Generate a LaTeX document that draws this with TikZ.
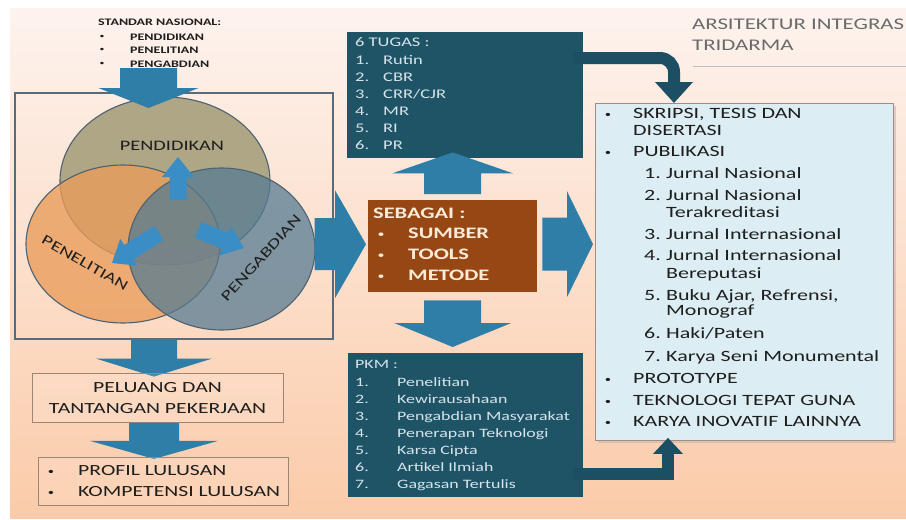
\documentclass[tikz,border=0pt]{standalone}
\usepackage{fontspec}
\setmainfont{Carlito}[FakeStretch=1.4]
\usetikzlibrary{calc,shapes.geometric}

\definecolor{bgtop}{HTML}{FDF3EE}
\definecolor{bgbot}{HTML}{FBCBA9}
\definecolor{arrblue}{HTML}{2E7EA8}
\definecolor{vennblue}{HTML}{3B8DC6}
\definecolor{tealbox}{HTML}{1F5467}
\definecolor{tealconn}{HTML}{1D4F64}
\definecolor{tealtext}{HTML}{D6E4EA}
\definecolor{brownbox}{HTML}{974713}
\definecolor{browntext}{HTML}{FCEBD9}
\definecolor{framec}{HTML}{5A6A78}
\definecolor{vtop}{HTML}{A8A17E}
\definecolor{vleft}{HTML}{EA9C5A}
\definecolor{vright}{HTML}{557B93}
\definecolor{vedge}{HTML}{4E6170}
\definecolor{lightbox}{HTML}{DCEEF3}
\definecolor{lightedge}{HTML}{A98A80}
\definecolor{inktext}{HTML}{1E1E1E}
\definecolor{titlegray}{HTML}{6B6B6B}
\definecolor{boxedge}{HTML}{9B8676}

\newcommand\fsz[1]{\fontsize{#1}{#1}\selectfont}

% block arrow: [colour]{start}{tip}{half shaft}{half head}{head length}
\newcommand\blockarrow[6][arrblue]{%
  \coordinate (ba-b) at ($(#3)!#6pt!(#2)$);
  \fill[#1] ($(#2)!#4pt!90:(#3)$) -- ($(ba-b)!#4pt!90:(#3)$)
    -- ($(ba-b)!#5pt!90:(#3)$) -- (#3)
    -- ($(ba-b)!#5pt!-90:(#3)$) -- ($(ba-b)!#4pt!-90:(#3)$)
    -- ($(#2)!#4pt!-90:(#3)$) -- cycle;}

\begin{document}
\begin{tikzpicture}[x=1pt,y=-1pt,
  txt/.style={inner sep=0pt, anchor=west, text height=.66em, text depth=0pt},
  rtxt/.style={txt, font=\fsz{15.7}, text=inktext},
  ttxt/.style={txt, font=\fsz{13.2}, text=tealtext},
  ptxt/.style={txt, font=\fsz{12.8}, text=tealtext},
  btxt/.style={txt, font=\bfseries\fsz{16}, text=browntext},
  stxt/.style={txt, font=\bfseries\fsz{10}, text=inktext},
  ltxt/.style={txt, font=\fsz{15.5}, text=inktext},
  dot/.style={inner sep=0pt, anchor=center, font=\fsz{#1}},
  vtxt/.style={inner sep=0pt, font=\fsz{14.5}, text=inktext},
  boxat/.style={inner sep=0pt, anchor=north west},
  outline/.style={boxat, draw=boxedge, line width=0.9pt, fill=white, fill opacity=0.12},
  vennc/.style={ellipse, draw=vedge, line width=1.1pt, inner sep=0pt},
  conn/.style={draw=tealconn, line width=12pt}
]
\useasboundingbox (0,0) rectangle (906,520);
\shade[top color=bgtop, bottom color=bgbot] (10,8) rectangle (906,518);

% title
\node[txt, font=\fsz{16.3}, text=titlegray] (title1) at (692,26) {ARSITEKTUR INTEGRAS};
\node[txt, font=\fsz{16.3}, text=titlegray] (title2) at (692,47) {TRIDARMA};
\draw[black!25, line width=1pt] (693,66) -- (906,66);

% national standards
\node[stxt] (std) at (98,22) {STANDAR NASIONAL:};
\foreach \t/\yy [count=\i] in {PENDIDIKAN/37, PENELITIAN/50, PENGABDIAN/64}{
  \node[dot=7, text=inktext] (stdb\i) at (102,\yy) {•};
  \node[stxt] (stdi\i) at (130,\yy) {\t};
}

% frame with the three circles
\node[boxat, draw=framec, line width=1.6pt, minimum width=318pt, minimum height=246pt] (frame) at (14,92) {};
\node[vennc, fill=vtop, fill opacity=.92, minimum width=210pt, minimum height=168pt] (vtopc) at (165,181) {};
\node[vennc, fill=vleft, fill opacity=.78, minimum width=194pt, minimum height=158pt] (vleftc) at (123,244) {};
\node[vennc, fill=vright, fill opacity=.74, minimum width=187pt, minimum height=162pt] (vrightc) at (221.5,249) {};
\node[vtxt] (lpend) at (172,146) {PENDIDIKAN};
\node[vtxt, rotate=-30] (lpene) at (85,263) {PENELITIAN};
\node[vtxt, rotate=48] (lpeng) at (261,258) {PENGABDIAN};

% arrows between the circles
\coordinate (vu-s) at (178,200); \coordinate (vu-t) at (178,157);
\coordinate (vl-s) at (159,233); \coordinate (vl-t) at (112,263);
\coordinate (vr-s) at (198,230); \coordinate (vr-t) at (244,248);
\blockarrow[vennblue]{vu-s}{vu-t}{8.5}{16}{20}
\blockarrow[vennblue]{vl-s}{vl-t}{8.5}{16}{20}
\blockarrow[vennblue]{vr-s}{vr-t}{8.5}{16}{20}

% standards into the frame
\coordinate (a0-s) at (148.5,68); \coordinate (a0-t) at (148.5,108);
\blockarrow{a0-s}{a0-t}{28.5}{50}{20}

% boxes in the middle column
\node[boxat, fill=tealbox, minimum width=236pt, minimum height=126pt] (tugas) at (347,32) {};
\node[boxat, fill=brownbox, minimum width=169pt, minimum height=92pt] (brown) at (368,200) {};
\node[boxat, fill=tealbox, minimum width=235pt, minimum height=144pt] (pkm) at (348,353) {};

% outcomes box
\fill[black!30, opacity=.5] (598,106) rectangle (896,443);
\node[boxat, fill=lightbox, draw=lightedge, line width=0.9pt, minimum width=298pt, minimum height=337pt] (rbox) at (595,103) {};

% block arrows around the brown box
\coordinate (a1-s) at ($(frame.east |- brown.west)+(-19,-2)$);
\coordinate (a1-t) at ($(brown.west)+(-2,-2)$);
\blockarrow{a1-s}{a1-t}{26}{54}{31}
\coordinate (a2-s) at ($(brown.east)+(5,-2)$);
\coordinate (a2-t) at ($(rbox.west |- brown.east)+(-2,-2)$);
\blockarrow{a2-s}{a2-t}{26.5}{53}{26}
\coordinate (a3-s) at ($(brown.north)+(0,-6)$);
\coordinate (a3-t) at ($(brown.north |- tugas.south)+(0,-6)$);
\blockarrow{a3-s}{a3-t}{28.5}{60.5}{21}
\coordinate (a4-s) at ($(brown.south)+(0,8)$);
\coordinate (a4-t) at ($(brown.south |- pkm.north)+(0,-6)$);
\blockarrow{a4-s}{a4-t}{28.5}{58.5}{24}

% connectors into the outcomes box
\draw[conn, rounded corners=14pt] ($(tugas.north east)+(-10,26)$) -| ($(rbox.north west)+(79,-20)$);
\fill[tealconn] ($(rbox.north west)+(60,-21)$) -- ++(38,0) -- ($(rbox.north west)+(79,0)$) -- cycle;
\draw[conn, line width=12pt] ($(pkm.south east)+(-10,-23)$) -| ($(rbox.south west)+(73,12)$);
\fill[tealconn] ($(rbox.south west)+(58,13)$) -- ++(30,0) -- ($(rbox.south west)+(73,-3)$) -- cycle;

% texts of the middle column
\node[ttxt] (tg0) at (355,43) {6 TUGAS :};
\foreach \t/\yy [count=\i] in {Rutin/61, CBR/78, {CRR/CJR}/95, MR/112, RI/129, PR/146}{
  \node[ttxt] (tgn\i) at (355,\yy) {\i.};
  \node[ttxt] (tgt\i) at (383,\yy) {\t};
}
\node[btxt] (sb0) at (373,215) {SEBAGAI :};
\foreach \t/\yy [count=\i] in {SUMBER/235, TOOLS/256, METODE/277}{
  \node[dot=10, text=browntext] (sbb\i) at (381,\yy) {•};
  \node[btxt] (sbt\i) at (408,\yy) {\t};
}
\node[ptxt] (pk0) at (355,365) {PKM :};
\foreach \t [count=\i] in {Penelitian, Kewirausahaan, Pengabdian Masyarakat,
    Penerapan Teknologi, Karsa Cipta, Artikel Ilmiah, Gagasan Tertulis}{
  \node[ptxt] (pkn\i) at (355,366+17*\i) {\i.};
  \node[ptxt] (pkt\i) at (397,366+17*\i) {\t};
}

% texts of the outcomes box
\foreach \t/\yy [count=\i] in {{SKRIPSI, TESIS DAN}/115, PUBLIKASI/153, PROTOTYPE/380,
    TEKNOLOGI TEPAT GUNA/402, KARYA INOVATIF LAINNYA/423}{
  \node[dot=9, text=inktext] (rbb\i) at (608,\yy) {•};
  \node[rtxt] (rbt\i) at (633,\yy) {\t};
}
\node[rtxt] (rbc) at (633,132) {DISERTASI};
\foreach \n/\t/\yy [count=\i] in {1./Jurnal Nasional/175, 2./Jurnal Nasional/197,
    /Terakreditasi/214, 3./Jurnal Internasional/236, 4./Jurnal Internasional/257,
    /Bereputasi/275, 5./{Buku Ajar, Refrensi,}/297, /Monograf/312,
    6./{Haki/Paten}/335, 7./Karya Seni Monumental/358}{
  \node[rtxt] (rnn\i) at (644,\yy) {\n};
  \node[rtxt] (rnt\i) at (666,\yy) {\t};
}

% lower left column
\coordinate (a5-s) at ($(frame.south west)+(140,0)$);
\coordinate (a5-t) at ($(frame.south west)+(140,37)$);
\blockarrow{a5-s}{a5-t}{23}{58}{18}
\node[outline, minimum width=251pt, minimum height=49pt] (peluang) at (32,373) {};
\node[ltxt, anchor=center] (pl1) at (157.5,389) {PELUANG DAN};
\node[ltxt, anchor=center] (pl2) at (157.5,410) {TANTANGAN PEKERJAAN};
\coordinate (a6-s) at ($(peluang.south west)+(122,0)$);
\coordinate (a6-t) at ($(peluang.south west)+(122,36)$);
\blockarrow{a6-s}{a6-t}{25}{64}{18}
\node[outline, minimum width=250pt, minimum height=48pt] (profil) at (38,457) {};
\node[dot=9, text=inktext] (pfb1) at (51,472) {•};
\node[ltxt] (pft1) at (78,472) {PROFIL LULUSAN};
\node[dot=9, text=inktext] (pfb2) at (51,493) {•};
\node[ltxt] (pft2) at (78,493) {KOMPETENSI LULUSAN};
\end{tikzpicture}
\end{document}
